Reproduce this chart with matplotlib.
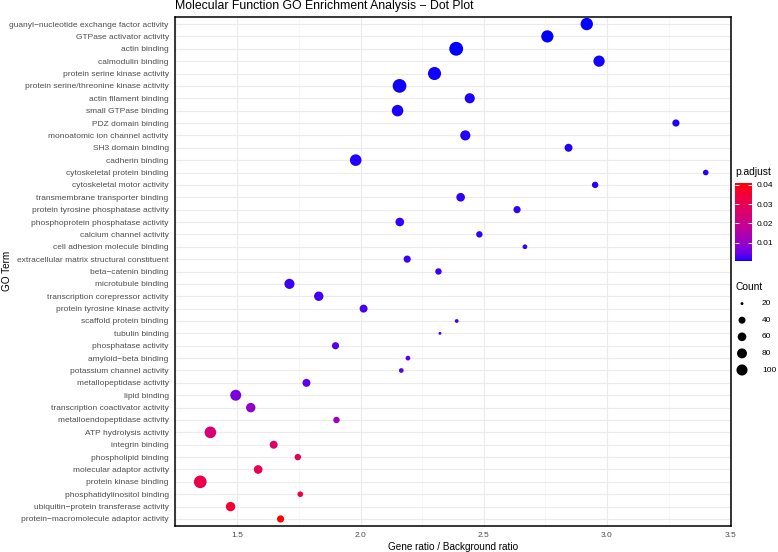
import matplotlib
matplotlib.use("Agg")
import matplotlib.pyplot as plt
import numpy as np
from matplotlib.colors import ListedColormap, Normalize, to_rgb
from matplotlib.cm import ScalarMappable

plt.rcParams['font.family'] = ['Liberation Sans', 'DejaVu Sans']

terms = [
  "guanyl−nucleotide exchange factor activity", "GTPase activator activity",
  "actin binding", "calmodulin binding", "protein serine kinase activity",
  "protein serine/threonine kinase activity", "actin filament binding",
  "small GTPase binding", "PDZ domain binding", "monoatomic ion channel activity",
  "SH3 domain binding", "cadherin binding", "cytoskeletal protein binding",
  "cytoskeletal motor activity", "transmembrane transporter binding",
  "protein tyrosine phosphatase activity", "phosphoprotein phosphatase activity",
  "calcium channel activity", "cell adhesion molecule binding",
  "extracellular matrix structural constituent", "beta−catenin binding",
  "microtubule binding", "transcription corepressor activity",
  "protein tyrosine kinase activity", "scaffold protein binding", "tubulin binding",
  "phosphatase activity", "amyloid−beta binding", "potassium channel activity",
  "metallopeptidase activity", "lipid binding", "transcription coactivator activity",
  "metalloendopeptidase activity", "ATP hydrolysis activity", "integrin binding",
  "phospholipid binding", "molecular adaptor activity", "protein kinase binding",
  "phosphatidylinositol binding", "ubiquitin−protein transferase activity",
  "protein−macromolecule adaptor activity",
]
gene_ratio = [
  2.918, 2.758, 2.388, 2.968, 2.300, 2.158, 2.443, 2.150, 3.280, 2.425,
  2.844, 1.980, 3.401, 2.952, 2.406, 2.635, 2.159, 2.482, 2.667, 2.189,
  2.316, 1.711, 1.830, 2.012, 2.390, 2.322, 1.898, 2.192, 2.165, 1.780,
  1.493, 1.554, 1.902, 1.390, 1.647, 1.745, 1.584, 1.349, 1.755, 1.472,
  1.675,
]
counts = [
  128, 125, 165, 104, 145, 162, 83, 110, 42, 83,
  51, 112, 29, 35, 60, 42, 60, 35, 24, 42,
  35, 83, 71, 51, 21, 20, 42, 24, 24, 51,
  98, 71, 35, 112, 51, 35, 60, 135, 29, 71,
  42,
]
p_adjust = [
  0.00050, 0.00055, 0.00060, 0.00066, 0.00072, 0.00078, 0.00085, 0.00090, 0.00096, 0.00100,
  0.00105, 0.00110, 0.00118, 0.00125, 0.00135, 0.00140, 0.00148, 0.00155, 0.00160, 0.00168,
  0.00175, 0.00180, 0.00210, 0.00230, 0.00270, 0.00290, 0.00300, 0.00330, 0.00340, 0.00380,
  0.00620, 0.00940, 0.01150, 0.02480, 0.02680, 0.02970, 0.03000, 0.03170, 0.03370, 0.03530,
  0.04100,
]
count_breaks = [20, 40, 60, 80, 100]
p_breaks = [0.01, 0.02, 0.03, 0.04]

# blue -> red gradient interpolated in Lab, like ggplot's scale_colour_gradient
M = np.array([[0.4124, 0.3576, 0.1805], [0.2126, 0.7152, 0.0722], [0.0193, 0.1192, 0.9505]])
white = np.array([0.95047, 1.0, 1.08883])

def to_lab(c):
  c = np.array(to_rgb(c))
  lin = np.where(c <= 0.04045, c / 12.92, ((c + 0.055) / 1.055) ** 2.4)
  xyz = M @ lin / white
  f = np.where(xyz > 0.008856, np.cbrt(xyz), 7.787 * xyz + 16 / 116)
  return np.array([116 * f[1] - 16, 500 * (f[0] - f[1]), 200 * (f[1] - f[2])])

def from_lab(lab):
  fy = (lab[:, 0] + 16) / 116
  f = np.stack([fy + lab[:, 1] / 500, fy, fy - lab[:, 2] / 200], axis=1)
  xyz = np.where(f > 0.2069, f ** 3, (f - 16 / 116) / 7.787) * white
  lin = np.clip(xyz @ np.linalg.inv(M).T, 0, 1)
  return np.where(lin <= 0.0031308, 12.92 * lin, 1.055 * lin ** (1 / 2.4) - 0.055)

t = np.linspace(0, 1, 256)[:, None]
lab = to_lab("blue") * (1 - t) + to_lab("red") * t
cmap = ListedColormap(np.clip(from_lab(lab), 0, 1))
norm = Normalize(min(p_adjust), max(p_adjust))

cmin, cmax = min(counts), max(counts)
def size_of(c):
  d_px = 2.91 + 10.95 * np.sqrt((np.array(c) - cmin) / (cmax - cmin))
  return (d_px * 0.72) ** 2

W, H = 778, 552
fig = plt.figure(figsize=(W / 100, H / 100), dpi=100)
ax = fig.add_axes([175 / W, 1 - 526.4 / H, (731 - 175) / W, (526.4 - 16.6) / H])

y = np.arange(len(terms))
ax.scatter(gene_ratio, y, s=size_of(counts), c=p_adjust, cmap=cmap, norm=norm,
           edgecolors='none', zorder=3)

lo, hi = min(gene_ratio), max(gene_ratio)
pad = 0.05 * (hi - lo)
ax.set_xlim(lo - pad, hi + pad)
ax.set_ylim(len(terms) - 1 + 0.6, -0.6)
ax.set_xticks([1.5, 2.0, 2.5, 3.0, 3.5])
ax.set_xticks([1.25, 1.75, 2.25, 2.75, 3.25], minor=True)
ax.set_yticks(y)
ax.set_yticklabels(terms)
ax.tick_params(axis='both', length=0, labelsize=6.05, colors='#4D4D4D', pad=4.5)
ax.tick_params(axis='x', pad=4)
ax.tick_params(axis='x', which='minor', length=0)
ax.grid(True, which='major', color='#EBEBEB', lw=0.8, zorder=0)
ax.grid(True, which='minor', axis='x', color='#F2F2F2', lw=0.4, zorder=0)
ax.set_axisbelow(True)
for sp in ax.spines.values():
  sp.set_color('black')
  sp.set_linewidth(1.1)

ax.set_xlabel("Gene ratio / Background ratio", fontsize=7.2, labelpad=2)
fig.text(7 / W, 1 - 271 / H, "GO Term", fontsize=7.2, rotation=90, va='center', ha='center')
fig.text(175 / W, 1 - 9.5 / H, "Molecular Function GO Enrichment Analysis − Dot Plot",
         fontsize=8.8, va='baseline', ha='left')

# colour bar legend
fig.text(735 / W, 1 - 175 / H, "p.adjust", fontsize=7.4, va='baseline')
cax = fig.add_axes([735 / W, 1 - 261 / H, 17 / W, 78 / H])
cb = fig.colorbar(ScalarMappable(norm=norm, cmap=cmap), cax=cax)
cb.outline.set_visible(False)
cb.set_ticks(p_breaks)
cb.set_ticklabels([f"{v:.2f}" for v in p_breaks])
cax.tick_params(left=True, right=True, direction='in', color='white', length=3.2,
                width=0.7, labelsize=6.05, pad=3)

# size legend
fig.text(735 / W, 1 - 290 / H, "Count", fontsize=7.4, va='baseline')
lax = fig.add_axes([733.7 / W, 1 - 378.3 / H, 16.6 / W, 83 / H])
ly = np.arange(len(count_breaks))
lax.scatter(np.zeros(len(ly)), ly, s=size_of(count_breaks), color='black', edgecolors='none')
for i, v in enumerate(count_breaks):
  lax.text(1.2, i, str(v), fontsize=6.05, va='center', ha='left')
lax.set_xlim(-0.5, 0.5)
lax.set_ylim(len(ly) - 0.5, -0.5)
lax.axis('off')

fig.savefig("out.png", dpi=100)
